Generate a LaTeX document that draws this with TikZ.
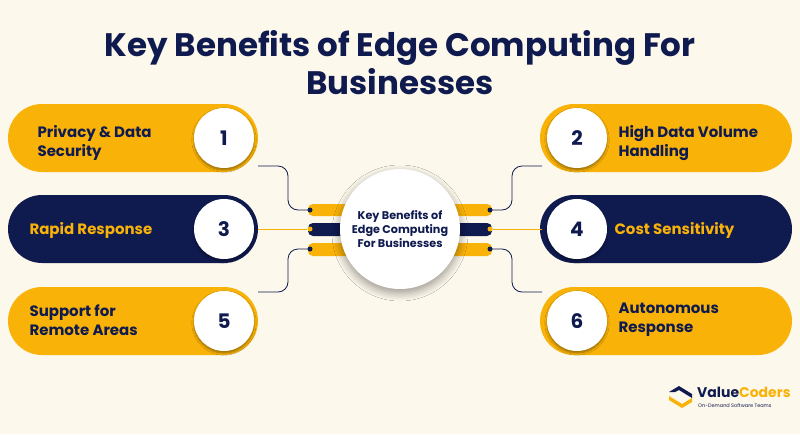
\documentclass[tikz,border=0pt]{standalone}
\usepackage{fontspec}
\setmainfont{Poppins}
\usetikzlibrary{shadows.blur}
\definecolor{bg}{HTML}{FDF8EC}
\definecolor{yel}{HTML}{F9B208}
\definecolor{navy}{HTML}{0F1A4F}
\begin{document}
\begin{tikzpicture}[x=1pt,y=-1pt,
  pill/.style={rounded corners=34pt},
  numc/.style={circle,fill=white,minimum size=60pt,inner sep=0pt,font=\fontsize{20}{20}\bfseries,text=navy,blur shadow={shadow blur steps=6,shadow xshift=0pt,shadow yshift=-2pt}},
  ptxt/.style={font=\fontsize{15}{19}\selectfont\bfseries,align=left,anchor=west},
  conn/.style={navy,line width=0.8pt,rounded corners=10pt},
  dot/.style={circle,fill=navy,inner sep=0pt,minimum size=5pt},
  ydot/.style={circle,fill=yel,inner sep=0pt,minimum size=5pt},
  bar/.style={rounded corners=5pt}]
\fill[bg] (0,0) rectangle (800,434);
\useasboundingbox (0,0) rectangle (800,434);
\node[font=\fontsize{32.5}{38}\selectfont\bfseries,text=navy,align=center] (title) at (400,63) {Key Benefits of Edge Computing For\\Businesses};
% pills
\fill[yel,pill] (8,104) rectangle (258,172);
\fill[navy,pill] (8,195) rectangle (258,263);
\fill[yel,pill] (8,287) rectangle (258,355);
\fill[yel,pill] (540,104) rectangle (792,172);
\fill[navy,pill] (540,195) rectangle (792,263);
\fill[yel,pill] (540,287) rectangle (792,355);
\node[numc] (n1) at (224,138) {1};
\node[numc] (n3) at (224,229) {3};
\node[numc] (n5) at (224,321) {5};
\node[numc] (n2) at (577,138) {2};
\node[numc] (n4) at (577,229) {4};
\node[numc] (n6) at (577,321) {6};
\node[ptxt,text=navy] (t1) at (34,143) {Privacy \& Data\\Security};
\node[ptxt,text=yel] (t3) at (26,230) {Rapid Response};
\node[ptxt,text=navy] (t5) at (26,320) {Support for\\Remote Areas};
\node[ptxt,text=navy] (t2) at (615,143) {High Data Volume\\Handling};
\node[ptxt,text=yel] (t4) at (611,230) {Cost Sensitivity};
\node[ptxt,text=navy] (t6) at (615,320) {Autonomous\\Response};
% bars
\fill[yel,bar] (308,204) rectangle (356,216);
\fill[navy,bar] (308,223) rectangle (356,236);
\fill[yel,bar] (308,243) rectangle (356,256);
\fill[yel,bar] (444,204) rectangle (492,216);
\fill[navy,bar] (444,223) rectangle (492,236);
\fill[yel,bar] (444,243) rectangle (492,256);
\coordinate (a1) at (258,166);
\coordinate (a3) at (258,229);
\coordinate (a5) at (258,292);
\coordinate (a2) at (542,166);
\coordinate (a4) at (542,229);
\coordinate (a6) at (542,292);
\node[dot] (d1) at (310,210) {};
\node[ydot] (d3) at (310,229) {};
\node[dot] (d5) at (310,249) {};
\node[dot] (d2) at (490,210) {};
\node[ydot] (d4) at (490,229) {};
\node[dot] (d6) at (490,249) {};
\draw[conn] (a1) -- (288,166) -- (288,210) -- (d1.center);
\draw[conn] (a5) -- (288,292) -- (288,249) -- (d5.center);
\draw[conn] (a2) -- (512,166) -- (512,210) -- (d2.center);
\draw[conn] (a6) -- (512,292) -- (512,249) -- (d6.center);
\draw[yel,line width=0.8pt] (a3) -- (d3);
\draw[yel,line width=0.8pt] (a4) -- (d4);
\node[circle,fill=white,minimum size=120pt,inner sep=0pt,blur shadow={shadow blur steps=10,shadow xshift=0pt,shadow yshift=-4pt,shadow blur radius=8pt},font=\fontsize{11.2}{14}\selectfont\bfseries,text=navy,align=center] (c) at (400,229) {Key Benefits of\\Edge Computing\\For Businesses};
% logo
\fill[navy] (669,392) -- (679,386) -- (692,394) -- (692,398) -- (679,390) -- (675,392) -- cycle;
\fill[yel] (669,400) -- (682,408) -- (692,402) -- (692,398) -- (682,404) -- (669,396) -- cycle;
\node[anchor=west,font=\fontsize{14}{14}\selectfont\bfseries,inner sep=0pt] (logo) at (697,392) {\textcolor{navy}{Value}\textcolor{yel}{Coders}};
\node[anchor=west,font=\fontsize{5}{5}\selectfont,text=navy,inner sep=0pt] (tag) at (698,406) {On-Demand Software Teams};
\end{tikzpicture}
\end{document}
